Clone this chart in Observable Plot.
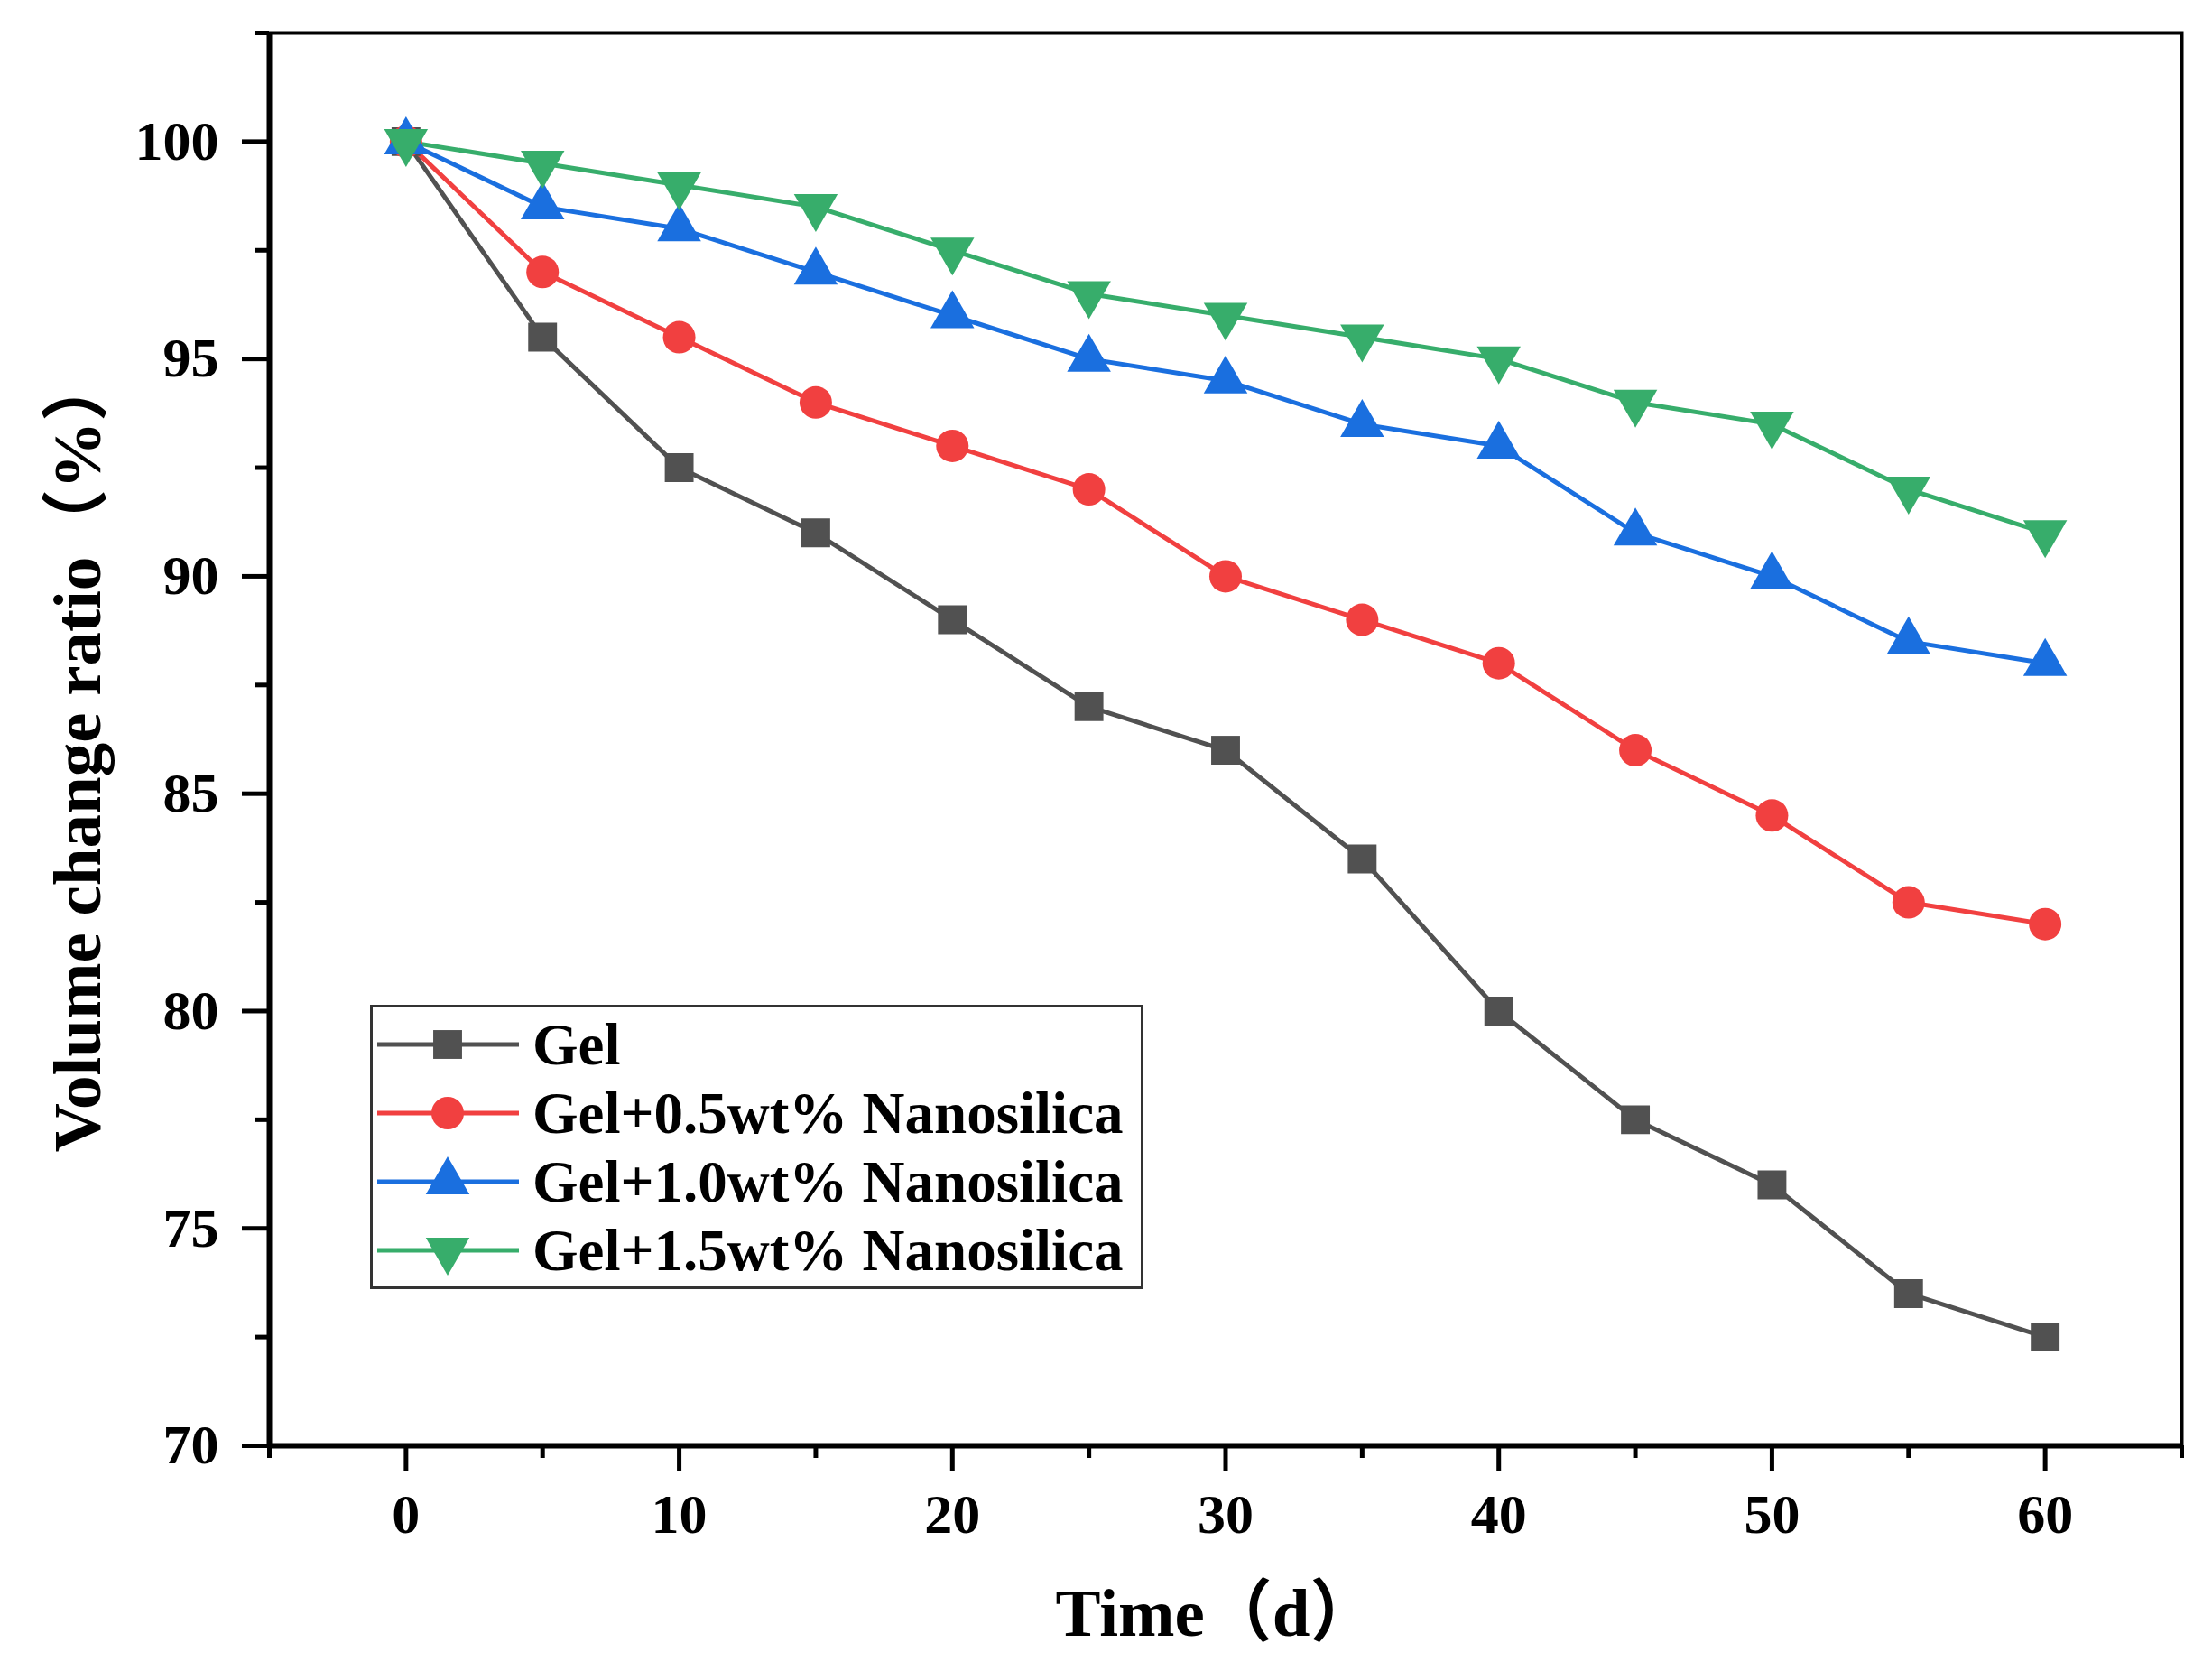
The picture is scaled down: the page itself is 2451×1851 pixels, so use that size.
<!DOCTYPE html>
<html>
<head>
<meta charset="utf-8">
<script src="https://cdn.jsdelivr.net/npm/d3@7"></script>
<script src="https://cdn.jsdelivr.net/npm/@observablehq/plot@0.6"></script>
<style>
  body { margin: 0; background: #fff; }
  #chart { position: relative; width: 2451px; height: 1851px; }
  #legend { position: absolute; left: 410px; top: 1113px; width: 857px; height: 315px; box-sizing: border-box; border: 3px solid #333; background: #fff; padding-top: 3px; }
  .row { display: flex; align-items: center; height: 76px; }
  .row svg { display: block; }
  .row span { font: bold 65px "Liberation Serif", "Times New Roman", serif; margin-left: 5px; line-height: 1; color: #000; }
</style>
</head>
<body>
<div id="chart"><div id="legend"></div></div>
<script>
// data
const days = [0, 5, 10, 15, 20, 25, 30, 35, 40, 45, 50, 55, 60];
const seriesNames = ["Gel", "Gel+0.5wt% Nanosilica", "Gel+1.0wt% Nanosilica", "Gel+1.5wt% Nanosilica"];
const gel    = [100, 95.5, 92.5, 91, 89, 87, 86, 83.5, 80, 77.5, 76, 73.5, 72.5];
const gel05  = [100, 97, 95.5, 94, 93, 92, 90, 89, 88, 86, 84.5, 82.5, 82];
const gel10  = [100, 98.5, 98, 97, 96, 95, 94.5, 93.5, 93, 91, 90, 88.5, 88];
const gel15  = [100, 99.5, 99, 98.5, 97.5, 96.5, 96, 95.5, 95, 94, 93.5, 92, 91];
const colors = ["#515151", "#F14040", "#1A6FDF", "#37AD6B"];
const xTicks = [0, 10, 20, 30, 40, 50, 60];
const xMinor = [-5, 5, 15, 25, 35, 45, 55, 65];
const yTicks = [70, 75, 80, 85, 90, 95, 100];
const yMinor = [72.5, 77.5, 82.5, 87.5, 92.5, 97.5, 102.5];
const xLabel = "Time（d）";
const yLabel = "Volume change ratio（%）";

const seriesValues = [gel, gel05, gel10, gel15];
const rows = seriesNames.flatMap((name, i) =>
  days.map((d, j) => ({day: d, ratio: seriesValues[i][j], series: name})));

// downward triangle, same size rule as d3.symbolTriangle
const sqrt3 = Math.sqrt(3);
const triangleDown = {
  draw(context, size) {
    const y = -Math.sqrt(size / (sqrt3 * 3));
    context.moveTo(0, -y * 2);
    context.lineTo(-sqrt3 * y, y);
    context.lineTo(sqrt3 * y, y);
    context.closePath();
  }
};
const symbols = [d3.symbolSquare, d3.symbolCircle, d3.symbolTriangle, triangleDown];
const font = '"Liberation Serif", "Times New Roman", "Noto Sans CJK SC", serif';
const markR = 18;

const chart = Plot.plot({
  width: 2451,
  height: 1851,
  marginLeft: 298,
  marginRight: 34,
  marginTop: 36,
  marginBottom: 250,
  style: {fontFamily: font, fontWeight: "bold", color: "black", background: "white", overflow: "visible"},
  x: {domain: [-5, 65]},
  y: {domain: [70, 102.5]},
  color: {domain: seriesNames, range: colors},
  symbol: {domain: seriesNames, range: symbols},
  marks: [
    Plot.frame({stroke: "black", strokeWidth: 4}),
    Plot.ruleY([70], {stroke: "black", strokeWidth: 6}),
    Plot.ruleX([-5], {stroke: "black", strokeWidth: 6}),
    Plot.axisX({ticks: xMinor, tickSize: 14, tickFormat: () => "", strokeWidth: 5, label: null}),
    Plot.axisX({ticks: xTicks, tickSize: 28, tickPadding: 24, fontSize: 62, strokeWidth: 5, label: null}),
    Plot.axisY({ticks: yMinor, tickSize: 15, tickFormat: () => "", strokeWidth: 5, label: null}),
    Plot.axisY({ticks: yTicks, tickSize: 30, tickPadding: 26, fontSize: 62, strokeWidth: 5, label: null}),
    Plot.line(rows, {x: "day", y: "ratio", z: "series", stroke: "series", strokeWidth: 5}),
    Plot.dot(rows, {x: "day", y: "ratio", symbol: "series", fill: "series", r: markR}),
    Plot.text([yLabel], {text: d => d, frameAnchor: "left", dx: -212, dy: 15, rotate: -90,
      textAnchor: "middle", lineAnchor: "middle", fontSize: 75, fontWeight: "bold"}),
    Plot.text([xLabel], {text: d => d, frameAnchor: "bottom", dy: 186, dx: -10,
      textAnchor: "middle", lineAnchor: "middle", fontSize: 75, fontWeight: "bold"})
  ]
});
d3.select('#chart').insert(() => chart, '#legend');

// legend box with line + marker swatches
const legend = d3.select('#legend');
seriesNames.forEach((name, i) => {
  const row = legend.append('div').attr('class', 'row');
  const svg = row.append('svg').attr('width', 172).attr('height', 76);
  svg.append('line')
    .attr('x1', 5).attr('x2', 162).attr('y1', 38).attr('y2', 38)
    .attr('stroke', colors[i]).attr('stroke-width', 5);
  svg.append('path')
    .attr('transform', 'translate(83,38)')
    .attr('d', d3.symbol(symbols[i], Math.PI * markR * markR)())
    .attr('fill', colors[i]);
  row.append('span').text(name);
});
</script>
</body>
</html>
